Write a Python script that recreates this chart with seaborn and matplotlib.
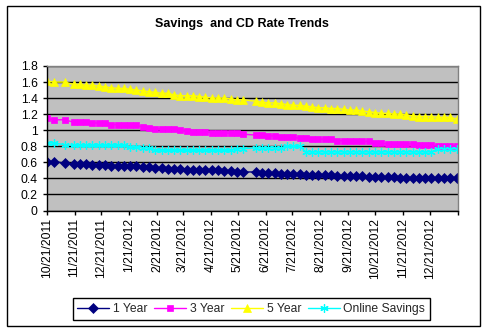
import matplotlib
matplotlib.use("Agg")
import matplotlib.pyplot as plt
import matplotlib.dates as mdates
from matplotlib.patches import Rectangle
import pandas as pd
import seaborn as sns

# Weekly rate observations
dates = [
    "2011-10-21", "2011-10-29", "2011-11-10", "2011-11-20", "2011-11-27",
    "2011-12-04", "2011-12-11", "2011-12-18", "2011-12-25", "2012-01-01",
    "2012-01-08", "2012-01-15", "2012-01-22", "2012-01-29", "2012-02-05",
    "2012-02-12", "2012-02-19", "2012-02-26", "2012-03-04", "2012-03-11",
    "2012-03-18", "2012-03-25", "2012-04-01", "2012-04-08", "2012-04-15",
    "2012-04-22", "2012-04-29", "2012-05-06", "2012-05-13", "2012-05-20",
    "2012-05-27", "2012-06-10", "2012-06-17", "2012-06-24", "2012-07-01",
    "2012-07-08", "2012-07-15", "2012-07-22", "2012-07-29", "2012-08-05",
    "2012-08-12", "2012-08-19", "2012-08-26", "2012-09-02", "2012-09-09",
    "2012-09-16", "2012-09-23", "2012-09-30", "2012-10-07", "2012-10-14",
    "2012-10-21", "2012-10-28", "2012-11-04", "2012-11-11", "2012-11-18",
    "2012-11-25", "2012-12-02", "2012-12-09", "2012-12-16", "2012-12-23",
    "2012-12-30", "2013-01-06", "2013-01-13", "2013-01-20",
]

one_year = [
    0.61, 0.61, 0.59, 0.58, 0.58, 0.58, 0.57, 0.57, 0.57, 0.56,
    0.56, 0.55, 0.55, 0.55, 0.54, 0.54, 0.53, 0.53, 0.52, 0.52,
    0.52, 0.51, 0.51, 0.51, 0.50, 0.50, 0.50, 0.49, 0.49, 0.48,
    0.48, 0.48, 0.47, 0.47, 0.47, 0.46, 0.46, 0.46, 0.45, 0.44,
    0.44, 0.44, 0.44, 0.44, 0.43, 0.43, 0.43, 0.43, 0.43, 0.42,
    0.42, 0.42, 0.42, 0.42, 0.41, 0.41, 0.41, 0.41, 0.41, 0.41,
    0.40, 0.40, 0.40, 0.40,
]

three_year = [
    1.15, 1.13, 1.13, 1.10, 1.10, 1.10, 1.09, 1.09, 1.09, 1.07,
    1.07, 1.07, 1.06, 1.06, 1.04, 1.03, 1.02, 1.02, 1.01, 1.01,
    1.00, 0.99, 0.98, 0.98, 0.98, 0.97, 0.97, 0.97, 0.96, 0.96,
    0.95, 0.94, 0.94, 0.93, 0.93, 0.92, 0.91, 0.91, 0.90, 0.90,
    0.89, 0.89, 0.89, 0.89, 0.87, 0.87, 0.87, 0.86, 0.86, 0.86,
    0.84, 0.84, 0.83, 0.83, 0.83, 0.83, 0.83, 0.81, 0.81, 0.81,
    0.80, 0.80, 0.80, 0.80,
]

five_year = [
    1.61, 1.60, 1.60, 1.57, 1.57, 1.56, 1.56, 1.55, 1.54, 1.53,
    1.52, 1.52, 1.51, 1.50, 1.49, 1.48, 1.47, 1.46, 1.46, 1.44,
    1.43, 1.43, 1.43, 1.42, 1.41, 1.40, 1.40, 1.40, 1.39, 1.38,
    1.38, 1.36, 1.35, 1.34, 1.34, 1.33, 1.32, 1.31, 1.31, 1.30,
    1.29, 1.28, 1.28, 1.27, 1.27, 1.26, 1.25, 1.25, 1.24, 1.23,
    1.22, 1.21, 1.21, 1.20, 1.20, 1.19, 1.18, 1.17, 1.17, 1.17,
    1.16, 1.16, 1.16, 1.14,
]

online_savings = [
    0.84, 0.84, 0.82, 0.81, 0.81, 0.81, 0.81, 0.81, 0.81, 0.81,
    0.81, 0.81, 0.79, 0.79, 0.78, 0.78, 0.75, 0.75, 0.75, 0.75,
    0.75, 0.75, 0.75, 0.75, 0.75, 0.75, 0.75, 0.75, 0.75, 0.77,
    0.77, 0.78, 0.78, 0.78, 0.78, 0.78, 0.80, 0.80, 0.80, 0.73,
    0.73, 0.73, 0.73, 0.73, 0.73, 0.73, 0.73, 0.73, 0.73, 0.73,
    0.73, 0.73, 0.73, 0.73, 0.73, 0.73, 0.73, 0.73, 0.73, 0.73,
    0.77, 0.77, 0.77, 0.77,
]

tick_dates = [
    "2011-10-21", "2011-11-21", "2011-12-21", "2012-01-21", "2012-02-21",
    "2012-03-21", "2012-04-21", "2012-05-21", "2012-06-21", "2012-07-21",
    "2012-08-21", "2012-09-21", "2012-10-21", "2012-11-21", "2012-12-21",
    "2013-01-21",
]
tick_labels = [
    "10/21/2011", "11/21/2011", "12/21/2011", "1/21/2012", "2/21/2012",
    "3/21/2012", "4/21/2012", "5/21/2012", "6/21/2012", "7/21/2012",
    "8/21/2012", "9/21/2012", "10/21/2012", "11/21/2012", "12/21/2012",
    "",
]
y_ticks = [0, 0.2, 0.4, 0.6, 0.8, 1.0, 1.2, 1.4, 1.6, 1.8]
y_tick_labels = ["0", "0.2", "0.4", "0.6", "0.8", "1", "1.2", "1.4", "1.6", "1.8"]

sns.set_theme(style="white")
plt.rcParams["font.family"] = ["Liberation Sans", "DejaVu Sans"]

df = pd.DataFrame({
    "date": pd.to_datetime(dates),
    "1 Year": one_year,
    "3 Year": three_year,
    "5 Year": five_year,
    "Online Savings": online_savings,
})

W, H = 486, 331
fig = plt.figure(figsize=(W / 100, H / 100), dpi=100)
fig.patch.set_facecolor("white")

# Outer chart border
fig.patches.append(Rectangle((6.5 / W, 1 - 325.5 / H), 473 / W, 319.5 / H,
                             transform=fig.transFigure, fill=False,
                             edgecolor="black", linewidth=1.0))

left, right, top, bottom = 46.7, 457.5, 66.0, 210.5
ax = fig.add_axes([left / W, 1 - bottom / H, (right - left) / W, (bottom - top) / H])
ax.set_facecolor("#C0C0C0")

styles = [
    ("1 Year", "#000080", "D", 5.0, "#000080"),
    ("3 Year", "#FF00FF", "s", 5.0, "#FF00FF"),
    ("5 Year", "#FFFF00", "^", 5.5, "#FFFF00"),
]
for name, color, marker, ms, ec in styles:
    sns.lineplot(data=df, x="date", y=name, ax=ax, color=color, marker=marker,
                 markersize=ms, markeredgecolor=ec, markeredgewidth=0.5,
                 linewidth=1.0, label=name)
sns.lineplot(data=df, x="date", y="Online Savings", ax=ax, color="#00FFFF",
             marker=(6, 2, 0), markersize=6, markeredgecolor="#00FFFF",
             markeredgewidth=0.9, linewidth=1.0, label="Online Savings")

ax.set_xlim(pd.Timestamp("2011-10-21"), pd.Timestamp("2013-01-21"))
ax.set_ylim(0, 1.8)
ax.set_xticks(pd.to_datetime(tick_dates))
ax.set_xticklabels(tick_labels, rotation=90, fontsize=8.7, color="black")
ax.set_yticks(y_ticks)
ax.set_yticklabels(y_tick_labels, fontsize=8.7, color="black")
ax.set_xlabel("")
ax.set_ylabel("")

ax.set_axisbelow(True)
ax.yaxis.grid(True, color="black", linewidth=1.0)
ax.xaxis.grid(False)

for side in ("top", "right"):
    ax.spines[side].set_color("#808080")
    ax.spines[side].set_linewidth(1.0)
for side in ("left", "bottom"):
    ax.spines[side].set_color("black")
    ax.spines[side].set_linewidth(1.0)

ax.tick_params(axis="both", which="both", direction="out", length=3, width=1,
               color="black", left=True, bottom=True)
ax.tick_params(axis="y", pad=3.5)
ax.tick_params(axis="x", pad=2.5)

leg = ax.legend(loc="center", bbox_to_anchor=(251.3 / W, 1 - 308.9 / H),
                bbox_transform=fig.transFigure, ncol=4, frameon=True,
                fancybox=False, edgecolor="black", framealpha=1,
                fontsize=8.7, handlelength=2.65, handletextpad=0.3,
                columnspacing=0.55, borderpad=0.4, borderaxespad=0)
leg.get_frame().set_linewidth(1.0)

fig.text(242 / W, 1 - 24 / H, "Savings  and CD Rate Trends", ha="center",
         va="center", fontsize=9, fontweight="bold", color="black")

fig.savefig("out.png", dpi=100)
